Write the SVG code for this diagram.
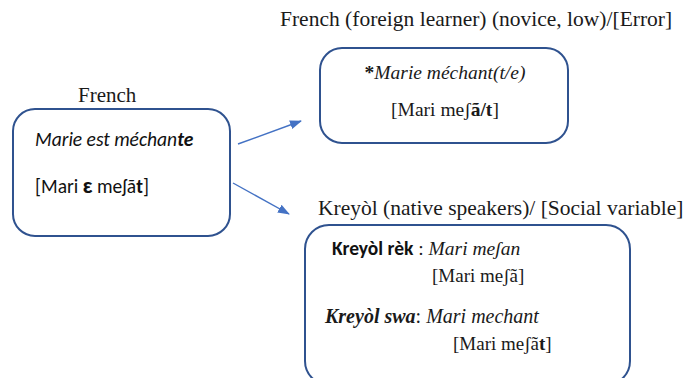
<svg xmlns="http://www.w3.org/2000/svg" width="689" height="378" viewBox="0 0 689 378">
<defs>
<marker id="ah" markerWidth="12" markerHeight="9" refX="11" refY="4.5" orient="auto" markerUnits="userSpaceOnUse">
<path d="M0,0 L12,4.5 L0,9 z" fill="#4472C4"/>
</marker>
<style>
.box{fill:#fff;stroke:#2F528F;stroke-width:2}
.ser{font-family:"Liberation Serif","Times New Roman",serif;fill:#1a1a1a}
.san{font-family:"Carlito","Liberation Sans",Arial,sans-serif;fill:#111}
.conn{stroke:#4472C4;stroke-width:1.4;fill:none}
</style>
</defs>
<rect width="689" height="378" fill="#fff"/>
<g id="french">
<text class="ser" x="78" y="102" font-size="21">French</text>
<rect class="box" x="13" y="109" width="217" height="127" rx="22"/>
<text class="san" x="35" y="146" font-size="19.5" font-style="italic">Marie est méchan<tspan font-weight="bold">te</tspan></text>
<text class="san" x="35" y="193" font-size="19.5">[Mari <tspan font-weight="bold" font-size="23">ɛ</tspan> meʃã<tspan font-weight="bold">t</tspan>]</text>
</g>
<g id="learner">
<text class="ser" x="280" y="26" font-size="21.5">French (foreign learner) (novice, low)/[Error]</text>
<rect class="box" x="320" y="48" width="248" height="95" rx="22"/>
<text class="ser" x="445" y="79" font-size="19.5" text-anchor="middle"><tspan font-weight="bold">*</tspan><tspan font-style="italic">Marie méchant(t/e)</tspan></text>
<text class="ser" x="445" y="116" font-size="19.5" text-anchor="middle">[Mari meʃ<tspan font-weight="bold">ã/t</tspan>]</text>
</g>
<g id="kreyol">
<text class="ser" x="318" y="215" font-size="21.5">Kreyòl (native speakers)/ [Social variable]</text>
<rect class="box" x="305" y="225" width="325" height="160" rx="24"/>
<text class="ser" x="332" y="255" font-size="19.5"><tspan class="san" font-weight="bold">Kreyòl rèk</tspan> : <tspan font-style="italic">Mari meʃan</tspan></text>
<text class="ser" x="432" y="282" font-size="19">[Mari meʃã]</text>
<text class="ser" x="325" y="323" font-size="20"><tspan font-weight="bold" font-style="italic">Kreyòl swa</tspan>: <tspan font-style="italic">Mari mechant</tspan></text>
<text class="ser" x="453" y="350" font-size="19">[Mari meʃã<tspan font-weight="bold">t</tspan>]</text>
</g>
<g id="connectors">
<line class="conn" x1="238" y1="144" x2="301" y2="121" marker-end="url(#ah)"/>
<line class="conn" x1="233" y1="183" x2="289" y2="214" marker-end="url(#ah)"/>
</g>
</svg>
